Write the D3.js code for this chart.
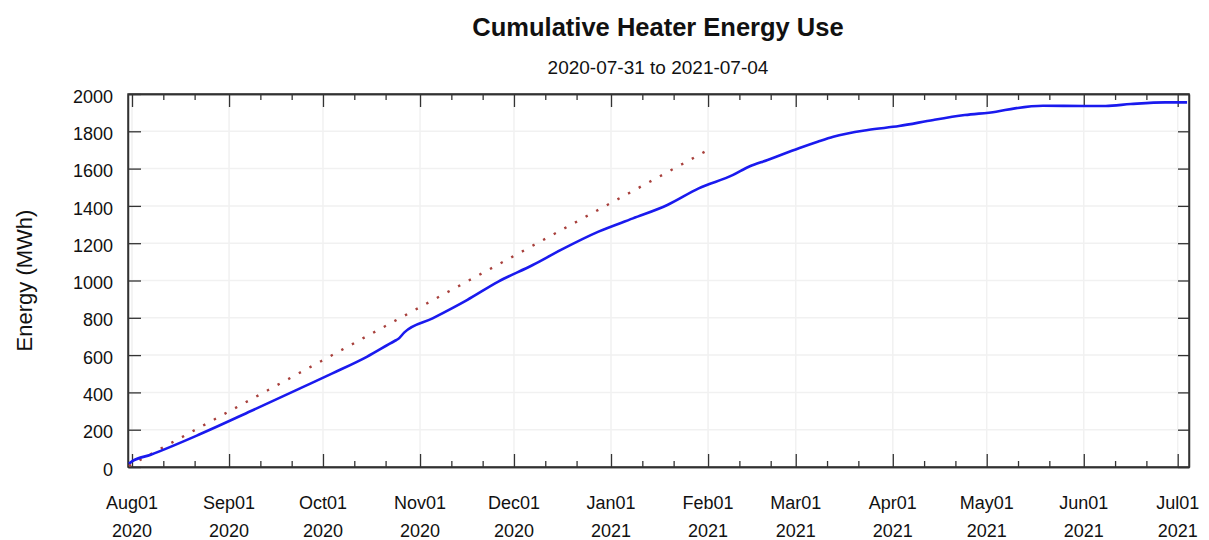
<!DOCTYPE html>
<html>
<head>
<meta charset="utf-8">
<script src="https://cdn.jsdelivr.net/npm/d3@7"></script>
<style>
  body { margin: 0; background: #fff; }
  svg { display: block; font-family: "Liberation Sans", Arial, Helvetica, sans-serif; }
</style>
</head>
<body>
<svg id="chart" width="1209" height="540"></svg>
<script>
// ---- Data ----
const title = "Cumulative Heater Energy Use";
const subtitle = "2020-07-31 to 2021-07-04";
const yLabel = "Energy (MWh)";

const energyDates = [
  "2020-07-31","2020-08-01","2020-08-07","2020-08-23","2020-09-08","2020-09-24","2020-10-04",
  "2020-10-15","2020-10-24","2020-10-25","2020-10-27","2020-11-05","2020-11-16",
  "2020-11-26","2020-12-07","2020-12-16","2020-12-28","2021-01-08","2021-01-19",
  "2021-01-29","2021-02-09","2021-02-14","2021-02-20","2021-03-02","2021-03-08",
  "2021-03-13","2021-03-24","2021-04-03","2021-04-14","2021-04-24","2021-05-04",
  "2021-05-10","2021-05-19","2021-06-01","2021-06-08","2021-06-16","2021-06-27",
  "2021-07-04"
];
const energyValues = [
  18, 30, 66, 178, 300, 424, 502,
  591, 677, 686, 722, 797, 895,
  994, 1083, 1164, 1262, 1333, 1405,
  1494, 1566, 1610, 1646, 1709, 1744,
  1771, 1807, 1828, 1861, 1887, 1905,
  1923, 1937, 1936, 1936, 1946, 1955,
  1955
];

const trendDates = ["2020-07-31", "2021-02-01"];
const trendValues = [5, 1700];

const yTicks = [0, 200, 400, 600, 800, 1000, 1200, 1400, 1600, 1800, 2000];
const xDomain = ["2020-07-30T17:20", "2021-07-04T14:40"];

// ---- Layout ----
const svg = d3.select("#chart");
const margin = { left: 128, right: 1189, top: 94, bottom: 467 };
const parse = d3.timeParse("%Y-%m-%d");
const parseT = d3.timeParse("%Y-%m-%dT%H:%M");

const x = d3.scaleTime()
  .domain(xDomain.map(parseT))
  .range([margin.left, margin.right]);
const y = d3.scaleLinear()
  .domain([0, 2000])
  .range([margin.bottom, margin.top]);

const majorTicks = d3.timeMonth.range(d3.timeMonth.ceil(x.domain()[0]), x.domain()[1]);
const minorTicks = [];
majorTicks.forEach(m => {
  [11, 21].forEach(dd => {
    const t = new Date(m.getFullYear(), m.getMonth(), dd);
    if (t < x.domain()[1]) minorTicks.push(t);
  });
});

// grid
const grid = svg.append("g").attr("stroke", "#f1f1f1").attr("stroke-width", 1.5);
grid.selectAll(".gx").data(majorTicks).join("line")
  .attr("x1", d => x(d)).attr("x2", d => x(d))
  .attr("y1", margin.top).attr("y2", margin.bottom);
grid.selectAll(".gy").data(yTicks.slice(1, -1)).join("line")
  .attr("x1", margin.left).attr("x2", margin.right)
  .attr("y1", d => y(d)).attr("y2", d => y(d));

// axes with inward ticks
const axisColor = "#333";
const fmtMonth = d3.timeFormat("%b%d");
const fmtYear = d3.timeFormat("%Y");

const bottomMajor = svg.append("g").attr("transform", `translate(0,${margin.bottom})`)
  .call(d3.axisBottom(x).tickValues(majorTicks).tickSizeInner(-13).tickSizeOuter(0).tickFormat(""));
const bottomMinor = svg.append("g").attr("transform", `translate(0,${margin.bottom})`)
  .call(d3.axisBottom(x).tickValues(minorTicks).tickSizeInner(-6).tickSizeOuter(0).tickFormat(""));
const topMajor = svg.append("g").attr("transform", `translate(0,${margin.top})`)
  .call(d3.axisTop(x).tickValues(majorTicks).tickSizeInner(-13).tickSizeOuter(0).tickFormat(""));
const topMinor = svg.append("g").attr("transform", `translate(0,${margin.top})`)
  .call(d3.axisTop(x).tickValues(minorTicks).tickSizeInner(-6).tickSizeOuter(0).tickFormat(""));
const leftAx = svg.append("g").attr("transform", `translate(${margin.left},0)`)
  .call(d3.axisLeft(y).tickValues(yTicks).tickSizeInner(-13).tickSizeOuter(0)
    .tickPadding(15).tickFormat(d3.format("d")));
const rightAx = svg.append("g").attr("transform", `translate(${margin.right},0)`)
  .call(d3.axisRight(y).tickValues(yTicks).tickSizeInner(-11).tickSizeOuter(0).tickFormat(""));

[bottomMajor, bottomMinor, topMajor, topMinor, leftAx, rightAx].forEach(g => {
  g.selectAll("path").attr("stroke", axisColor).attr("stroke-width", 1.5);
  g.selectAll("line").attr("stroke", axisColor).attr("stroke-width", 1.3);
});
leftAx.selectAll("text").attr("font-size", 18).attr("fill", "#111")
  .attr("font-family", "'Liberation Sans', Arial, sans-serif")
  .attr("dy", "0.45em");

// plot frame
svg.append("rect")
  .attr("x", margin.left).attr("y", margin.top)
  .attr("width", margin.right - margin.left).attr("height", margin.bottom - margin.top)
  .attr("fill", "none").attr("stroke", axisColor).attr("stroke-width", 1.5);

// x labels (two lines)
const xl = svg.append("g").attr("font-size", 18).attr("fill", "#111").attr("text-anchor", "middle");
xl.selectAll(".m").data(majorTicks).join("text")
  .attr("x", d => x(d)).attr("y", 509).text(d => fmtMonth(d));
xl.selectAll(".yr").data(majorTicks).join("text")
  .attr("x", d => x(d)).attr("y", 537).text(d => fmtYear(d));

// trend (dotted)
const line = d3.line().x(d => x(d[0])).y(d => y(d[1]));
const trend = trendDates.map((d, i) => [parse(d), trendValues[i]]);
svg.append("path").datum(trend)
  .attr("d", line)
  .attr("fill", "none")
  .attr("stroke", "#a8403c")
  .attr("stroke-width", 2.4)
  .attr("stroke-dasharray", "2.4,9.7");

// energy line
const energy = energyDates.map((d, i) => [parse(d), energyValues[i]]);
svg.append("path").datum(energy)
  .attr("d", d3.line().x(d => x(d[0])).y(d => y(d[1])).curve(d3.curveMonotoneX))
  .attr("fill", "none")
  .attr("stroke", "#1a1aee")
  .attr("stroke-width", 2.6)
  .attr("stroke-linejoin", "round");

// titles
svg.append("text").attr("x", 658).attr("y", 36).attr("text-anchor", "middle")
  .attr("font-size", 25.5).attr("font-weight", "bold").attr("fill", "#111").text(title);
svg.append("text").attr("x", 658).attr("y", 74).attr("text-anchor", "middle")
  .attr("font-size", 19).attr("fill", "#111").text(subtitle);
svg.append("text")
  .attr("transform", `translate(32,${(margin.top + margin.bottom) / 2}) rotate(-90)`)
  .attr("text-anchor", "middle").attr("font-size", 22).attr("fill", "#111").text(yLabel);
</script>
</body>
</html>
